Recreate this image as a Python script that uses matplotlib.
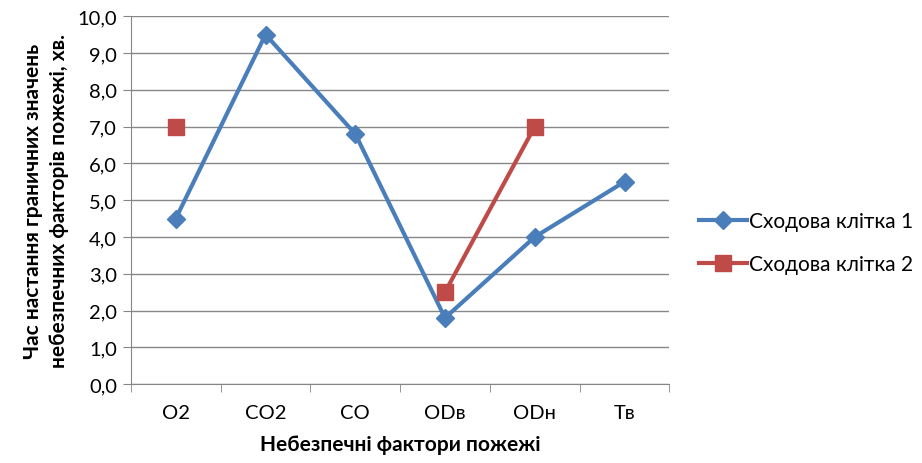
import matplotlib.pyplot as plt
import numpy as np

plt.rcParams['font.family'] = ['Lato', 'DejaVu Sans']

categories = ['O2', 'CO2', 'CO', 'ODв', 'ODн', 'Тв']
series1 = [4.5, 9.5, 6.8, 1.8, 4.0, 5.5]
series2 = [7.0, np.nan, np.nan, 2.5, 7.0, np.nan]
labels = ['Сходова клітка 1', 'Сходова клітка 2']

fig = plt.figure(figsize=(9.22, 4.64), dpi=100)
ax = fig.add_axes([0.142, 0.170, 0.584, 0.793])

x = np.arange(len(categories))
ax.plot(x, series1, color='#4A7EBB', lw=3, marker='D', ms=9,
        label=labels[0], zorder=3)
ax.plot(x, series2, color='#BE4B48', lw=3, marker='s', ms=11,
        label=labels[1], zorder=4)

ax.set_xlim(-0.5, len(categories) - 0.5)
ax.set_ylim(0, 10)
yt = np.arange(0, 10.01, 1.0)
ax.set_yticks(yt)
ax.set_yticklabels([('%.1f' % v).replace('.', ',') for v in yt])
ax.set_xticks(x)
ax.set_xticklabels(categories)
ax.set_xticks(np.arange(-0.5, len(categories), 1.0), minor=True)
ax.tick_params(axis='x', which='major', length=0, pad=14, labelsize=14.5)
ax.tick_params(axis='x', which='minor', length=6, color='#868686')
ax.tick_params(axis='y', length=6, color='#868686', labelsize=14.5, pad=4)
ax.grid(axis='y', color='#878787', lw=1)
ax.set_axisbelow(True)
for s in ['top', 'right']:
    ax.spines[s].set_visible(False)
ax.spines['left'].set_color('#868686')
ax.spines['bottom'].set_color('#868686')

ax.set_xlabel('Небезпечні фактори пожежі', fontsize=15, fontweight='bold', labelpad=10)
ax.set_ylabel('Час настання граничних значень\nнебезпечних факторів пожежі, хв.',
              fontsize=15, fontweight='bold', labelpad=6, linespacing=1.35)

ax.legend(loc='center left', bbox_to_anchor=(1.02, 0.384), frameon=False,
          fontsize=15, handlelength=2.3, handletextpad=0.1, labelspacing=1.1)

fig.savefig('out.png', dpi=100)
